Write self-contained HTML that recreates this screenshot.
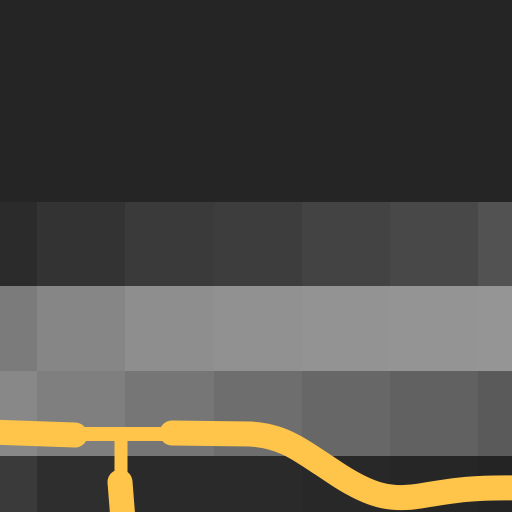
<!DOCTYPE html>
<html><head><meta charset="utf-8"><style>html,body{margin:0;padding:0;background:#252525}svg{display:block}</style></head>
<body>
<svg width="512" height="512" viewBox="0 0 512 512">
<rect x="0" y="0" width="512" height="202" fill="#252525"/>
<g id="cells"></g>
<g fill="none" stroke="#ffc54a" stroke-linecap="round">
<path d="M121,441 L121,482" stroke-width="13" stroke-linecap="butt"/>
<path d="M120,482 L123,520" stroke-width="25"/>
<path d="M70,434 L175,434" stroke-width="14"/>
<path d="M-10,432 L75,435" stroke-width="25"/>
<path d="M172,433 L250,434 C285,436 300,450 340,476 C370,495 390,501 420,496 C455,490 475,487 520,488" stroke-width="25"/>
</g>
</svg>
<script>
const colEdges=[0,37,125,214,302,390,478,512];
const rowEdges=[202,286,371,456,512];
const rowColors=[
["#2b2b2b","#333333","#3a3a3a","#3d3d3d","#434343","#484848","#525252"],
["#7b7b7b","#868686","#8e8e8e","#919191","#939393","#949494","#959595"],
["#888888","#7f7f7f","#767676","#6e6e6e","#676767","#616161","#5a5a5a"],
["#3a3a3a","#2e2e2e","#2a2a2a","#2a2a2a","#282828","#262626","#242424"]];
const g=document.getElementById('cells');
for(let r=0;r<rowColors.length;r++)for(let c=0;c<rowColors[r].length;c++){
const el=document.createElementNS('http://www.w3.org/2000/svg','rect');
el.setAttribute('x',colEdges[c]);el.setAttribute('y',rowEdges[r]);
el.setAttribute('width',colEdges[c+1]-colEdges[c]);el.setAttribute('height',rowEdges[r+1]-rowEdges[r]);
el.setAttribute('fill',rowColors[r][c]);


g.appendChild(el);}
</script>
</body></html>
